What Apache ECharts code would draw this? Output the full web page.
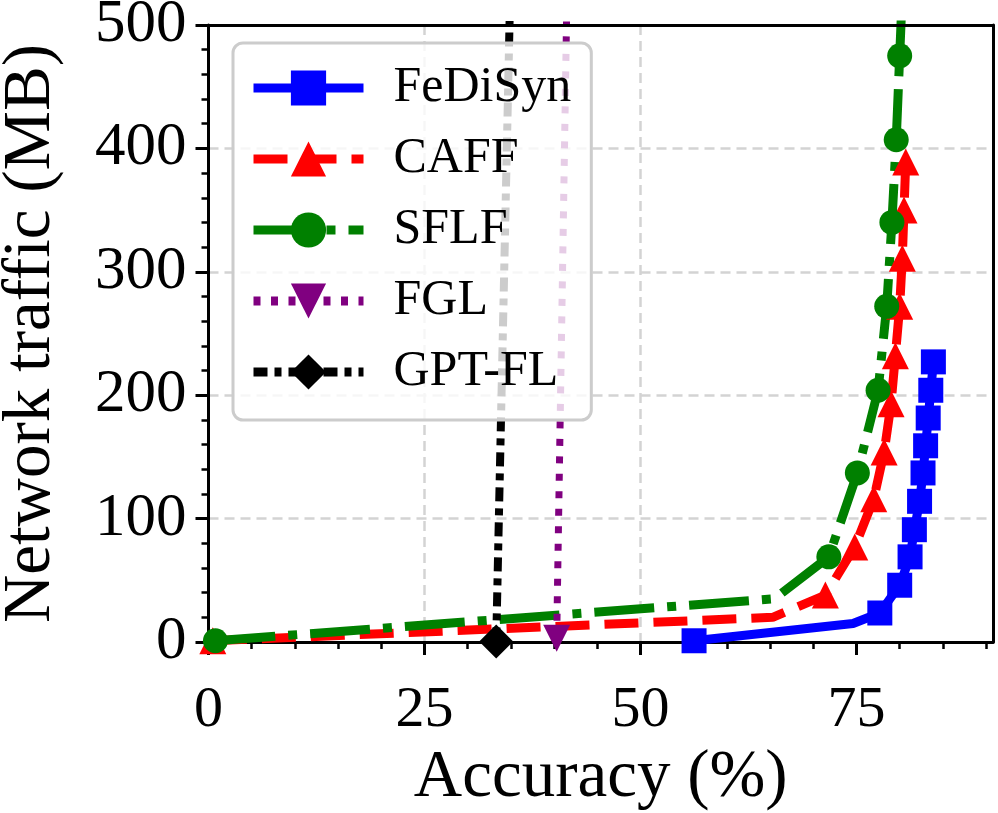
<!DOCTYPE html>
<html>
<head>
<meta charset="utf-8">
<script src="https://cdn.jsdelivr.net/npm/echarts@6/dist/echarts.min.js"></script>
<style>
  html, body { margin: 0; padding: 0; background: #fff; }
  #main { width: 998px; height: 813px; }
</style>
</head>
<body>
<div id="main"></div>
<script>
// values: accuracy (%) vs network traffic (MB)
var fedisynX = [56.2, 74.6, 77.7, 80.0, 81.2, 81.7, 82.3, 82.7, 83.0, 83.3, 83.6, 83.9];
var fedisynY = [1, 15, 23.5, 46, 69, 91, 114, 137, 159, 181.5, 204, 227];
var fedisynNoMark = [1];

var caffX = [0.5, 65.3, 71.4, 74.8, 77.0, 78.2, 79.0, 79.5, 80.0, 80.3, 80.5, 80.7];
var caffY = [1, 20, 38, 77, 116, 154, 193, 232, 272, 311, 350, 389];
var caffNoMark = [1];

var sflfX = [0.8, 65.5, 71.8, 75.1, 77.5, 78.5, 79.1, 79.6, 80.0, 80.4];
var sflfY = [1, 35, 69, 137, 204, 272, 340, 407, 475, 543];
var sflfNoMark = [1, 9];

var fglX = [40.3, 41.5];
var fglY = [3, 530];
var fglNoMark = [1];

var gptX = [33.3, 34.9];
var gptY = [0.5, 520];
var gptNoMark = [1];

var xTicks = [0, 25, 50, 75];

var font = '"Liberation Serif", "DejaVu Serif", serif';

function pts(xs, ys, noMark) {
  return xs.map(function (x, i) {
    var item = { value: [x, ys[i]] };
    if (noMark.indexOf(i) >= 0) item.symbol = 'none';
    return item;
  });
}

var chart = echarts.init(document.getElementById('main'));

// spines on top and right: bare axes with only the line
var spineX = {
  type: 'value', position: 'top', min: 0, max: 90.8, z: 10,
  axisLine: { show: true, onZero: false, lineStyle: { color: '#000', width: 3 } },
  axisTick: { show: false }, axisLabel: { show: false }, splitLine: { show: false }
};
var spineY = {
  type: 'value', position: 'right', min: 0, max: 500, z: 10,
  axisLine: { show: true, onZero: false, lineStyle: { color: '#000', width: 3 } },
  axisTick: { show: false }, axisLabel: { show: false }, splitLine: { show: false }
};

var option = {
  animation: false,
  backgroundColor: '#fff',
  grid: {
    left: 208.5,
    right: 5,
    top: 25,
    bottom: 171,
    outerBoundsMode: 'none',
    containLabel: false
  },
  legend: {
    orient: 'vertical',
    left: 233,
    top: 43,
    padding: [20, 20, 23, 16],
    itemWidth: 110,
    itemHeight: 44,
    itemGap: 21,
    backgroundColor: 'rgba(255,255,255,0.8)',
    borderColor: '#cccccc',
    borderWidth: 3,
    borderRadius: 10,
    textStyle: {
      fontFamily: font,
      fontSize: 50,
      color: '#000',
      padding: [0, 0, 0, 25]
    },
    lineStyle: { width: 9 }
  },
  xAxis: [{
    type: 'value',
    min: 0,
    max: 90.8,
    interval: 25,
    name: 'Accuracy (%)',
    nameLocation: 'middle',
    nameGap: 74,
    nameTextStyle: { fontFamily: font, fontSize: 67, color: '#000' },
    axisLine: { onZero: false, lineStyle: { color: '#000', width: 3 } },
    axisTick: { show: true, length: 13, lineStyle: { width: 3, color: '#000' }, customValues: xTicks },
    minorTick: { show: true, splitNumber: 5, length: 7, lineStyle: { width: 2.5, color: '#000' } },
    axisLabel: { fontFamily: font, fontSize: 58, color: '#000', margin: 40, customValues: xTicks },
    splitLine: { show: true, showMinLine: false, showMaxLine: false, lineStyle: { color: '#d3d3d3', width: 2.5, type: [10, 6] } }
  }, spineX],
  yAxis: [{
    type: 'value',
    min: 0,
    max: 500,
    interval: 100,
    name: 'Network traffic (MB)',
    nameLocation: 'middle',
    nameGap: 144,
    nameTextStyle: { fontFamily: font, fontSize: 67, color: '#000' },
    axisLine: { onZero: false, lineStyle: { color: '#000', width: 3 } },
    axisTick: { show: true, length: 13, lineStyle: { width: 3, color: '#000' } },
    minorTick: { show: true, splitNumber: 5, length: 7, lineStyle: { width: 2.5, color: '#000' } },
    axisLabel: { fontFamily: font, fontSize: 61, color: '#000', margin: 22 },
    splitLine: { show: true, showMinLine: false, showMaxLine: false, lineStyle: { color: '#d3d3d3', width: 2.5, type: [10, 6] } }
  }, spineY],
  series: [
    {
      name: 'FeDiSyn',
      type: 'line',
      data: pts(fedisynX, fedisynY, fedisynNoMark),
      symbol: 'rect',
      symbolSize: 25,
      clip: true,
      color: '#0000ff',
      lineStyle: { color: '#0000ff', width: 9, type: 'solid' },
      itemStyle: { color: '#0000ff' }
    },
    {
      name: 'CAFF',
      type: 'line',
      data: pts(caffX, caffY, caffNoMark),
      symbol: 'triangle',
      symbolSize: 27,
      clip: true,
      color: '#ff0000',
      lineStyle: { color: '#ff0000', width: 9, type: [34, 15] },
      itemStyle: { color: '#ff0000' }
    },
    {
      name: 'SFLF',
      type: 'line',
      data: pts(sflfX, sflfY, sflfNoMark),
      symbol: 'circle',
      symbolSize: 25,
      clip: true,
      color: '#008000',
      lineStyle: { color: '#008000', width: 9, type: [60, 13, 9, 13] },
      itemStyle: { color: '#008000' }
    },
    {
      name: 'FGL',
      type: 'line',
      data: pts(fglX, fglY, fglNoMark),
      symbol: 'triangle',
      symbolRotate: 180,
      symbolSize: 27,
      clip: true,
      color: '#800080',
      lineStyle: { color: '#800080', width: 7, type: [7, 10.5] },
      itemStyle: { color: '#800080' }
    },
    {
      name: 'GPT-FL',
      type: 'line',
      data: pts(gptX, gptY, gptNoMark),
      symbol: 'diamond',
      symbolSize: 34,
      clip: true,
      color: '#000000',
      lineStyle: { color: '#000000', width: 8, type: [14, 7, 7, 7] },
      itemStyle: { color: '#000000' }
    }
  ]
};

chart.setOption(option);
</script>
</body>
</html>
